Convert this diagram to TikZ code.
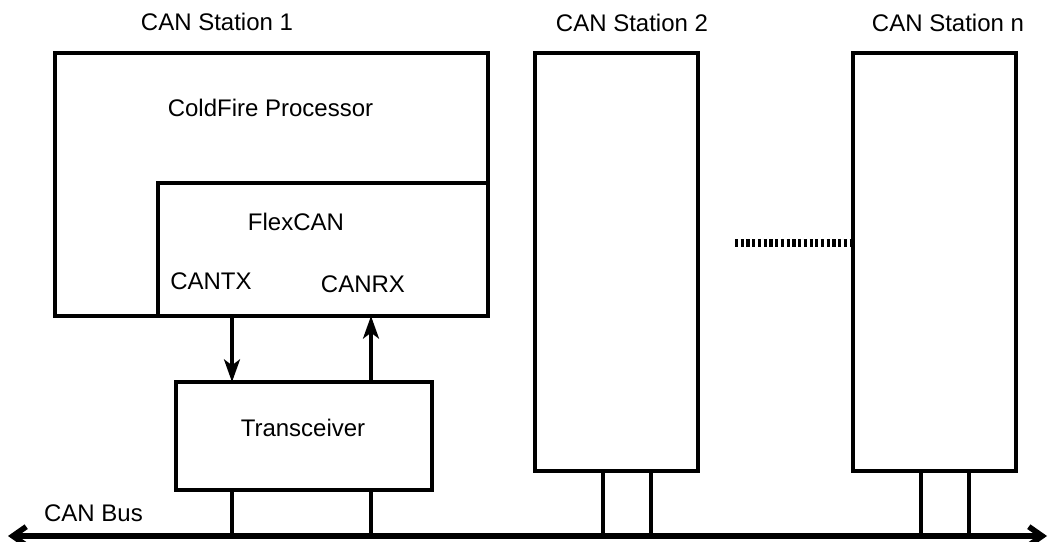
\documentclass[tikz,border=0pt]{standalone}
\usepackage{fontspec}
\setmainfont{Liberation Sans}
\usetikzlibrary{arrows.meta}
\begin{document}
\begin{tikzpicture}[x=0.75pt,y=-0.75pt,
  box/.style={line width=2.4pt},
  lbl/.style={font=\fontsize{18}{21}\selectfont, inner sep=0pt},
  sig/.style={line width=2.5pt,-{Stealth[length=17pt,width=12pt,inset=4.5pt]}},
  tap/.style={line width=2.4pt},
  bus/.style={line width=4.2pt,{Straight Barb[length=10pt,width=14pt]}-{Straight Barb[length=10pt,width=14pt]}}]
\useasboundingbox (0,0) rectangle (1052,542);
% Station 1
\draw[box] (158,316) -- (55,316) -- (55,53) -- (488,53) -- (488,183);
\draw[box] (158,183) rectangle (488,316);
\coordinate (txTop) at (232,316);
\coordinate (rxTop) at (371,316);
\node[lbl] (st1) at (217,22) {CAN Station 1};
\node[lbl] (cf) at (270.5,107.5) {ColdFire Processor};
\node[lbl] (flex) at (296,221.5) {FlexCAN};
\node[lbl] (cantx) at (211,281) {CANTX};
\node[lbl] (canrx) at (363,284) {CANRX};
% Transceiver
\draw[box] (176,382) rectangle (432,490);
\node[lbl] (trxl) at (303,427.5) {Transceiver};
\coordinate (trxAt) at (232,382);
\coordinate (trxBt) at (371,382);
\draw[sig] (txTop) -- (trxAt);
\draw[sig] (trxBt) -- (rxTop);
% Stations 2 and n
\draw[box] (535,53) rectangle (698,471);
\draw[box] (853,53) rectangle (1016,471);
\node[lbl] (st2) at (632,22.5) {CAN Station 2};
\node[lbl] (stn) at (948,23) {CAN Station n};
% dotted connection
\coordinate (d1) at (735,243);
\coordinate (d2) at (851,243);
\draw[line width=6pt,dash pattern=on 2.4pt off 1.9pt] (d1) -- (d2);
% Bus
\coordinate (busL) at (8,536);
\coordinate (busR) at (1047,536);
\draw[bus] (busL) -- (busR);
\node[lbl] (busl) at (93.5,513.5) {CAN Bus};
% taps
\foreach \x/\y in {232/490,371/490,603/471,651/471,921/471,969/471}
  \draw[tap] (\x,\y) -- (\x,536);
\end{tikzpicture}
\end{document}
